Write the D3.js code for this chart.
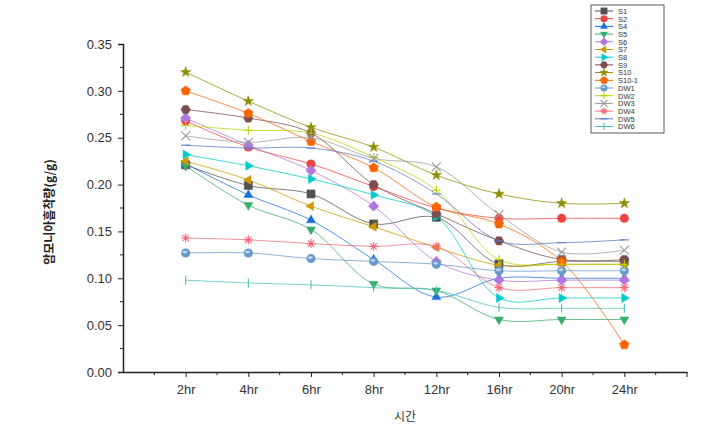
<!DOCTYPE html>
<html><head><meta charset="utf-8">
<script src="https://cdn.jsdelivr.net/npm/d3@7"></script>
<style>body{margin:0;background:#fff;}svg{display:block;font-family:"Liberation Sans",Arial,sans-serif;}</style>
</head><body>
<svg id="c" width="715" height="432"></svg>
<script>
const categories = ["2hr","4hr","6hr","8hr","12hr","16hr","20hr","24hr"];
const seriesNames = ["S1","S2","S4","S5","S6","S7","S8","S9","S10","S10-1","DW1","DW2","DW3","DW4","DW5","DW6"];
const S1   = [0.221,0.199,0.190,0.158,0.165,0.115,0.118,0.118];
const S2   = [0.268,0.240,0.222,0.198,0.175,0.164,0.164,0.164];
const S4   = [0.222,0.189,0.162,0.120,0.080,0.100,0.100,0.100];
const S5   = [0.220,0.178,0.152,0.094,0.087,0.056,0.056,0.056];
const S6   = [0.271,0.242,0.215,0.177,0.118,0.098,0.098,0.098];
const S7   = [0.225,0.205,0.177,0.155,0.133,0.114,0.115,0.115];
const S8   = [0.232,0.220,0.206,0.189,0.166,0.079,0.079,0.079];
const S9   = [0.280,0.271,0.255,0.200,0.169,0.140,0.120,0.120];
const S10  = [0.320,0.289,0.261,0.240,0.210,0.190,0.180,0.180];
const S10_1= [0.300,0.276,0.246,0.218,0.176,0.158,0.118,0.029];
const DW1  = [0.127,0.127,0.121,0.118,0.115,0.108,0.108,0.108];
const DW2  = [0.263,0.258,0.255,0.229,0.194,0.120,0.115,0.115];
const DW3  = [0.252,0.245,0.250,0.228,0.219,0.168,0.128,0.130];
const DW4  = [0.143,0.141,0.137,0.134,0.134,0.090,0.090,0.090];
const DW5  = [0.242,0.239,0.239,0.225,0.190,0.140,0.138,0.141];
const DW6  = [0.098,0.095,0.093,0.090,0.087,0.069,0.068,0.068];
const yTicks = [0.00,0.05,0.10,0.15,0.20,0.25,0.30,0.35];

const values = [S1,S2,S4,S5,S6,S7,S8,S9,S10,S10_1,DW1,DW2,DW3,DW4,DW5,DW6];
const colors = ["#515151","#F14040","#1A6FDF","#37AD6B","#B177DE","#CC9900","#00CBCC","#7D4E4E","#8E8E00","#FB6501","#6699CC","#B3D400","#999999","#F36A7A","#5A78C4","#48C0B8"];
const shapes = ["square","circle","tri","tridown","diamond","trileft","triright","hexagon","star","pentagon","sphere","plus","x","asterisk","dash","vbar"];

const svg = d3.select("#c");
const mL = 123, mR = 687, mT = 44, mB = 372;
const x = d3.scaleLinear().domain([0, 9]).range([mL, mR]);
const y = d3.scaleLinear().domain([0, 0.35]).range([mB, mT]);

// axes
const yAxis = d3.axisLeft(y).tickValues(yTicks).tickFormat(d3.format(".2f")).tickSize(5).tickPadding(6);
const gy = svg.append("g").attr("transform", `translate(${mL},0)`).call(yAxis);
gy.select(".domain").attr("stroke","#222").attr("stroke-width",1.5);
gy.selectAll(".tick line").attr("stroke","#222");
gy.selectAll("text").attr("font-size",13).attr("fill","#333");
const yMinor = d3.range(0.025, 0.35, 0.05);
svg.append("g").selectAll("line").data(yMinor).join("line")
  .attr("x1", mL-3).attr("x2", mL).attr("y1", d=>y(d)).attr("y2", d=>y(d)).attr("stroke","#222");

const xAxis = d3.axisBottom(x).tickValues(d3.range(1, 9)).tickFormat(i => categories[i-1]).tickSize(5).tickPadding(8).tickSizeOuter(0);
const gx = svg.append("g").attr("transform", `translate(0,${mB})`).call(xAxis);
gx.select(".domain").attr("stroke","#222").attr("stroke-width",1.5);
gx.selectAll(".tick line").attr("stroke","#222");
gx.selectAll("text").attr("font-size",13).attr("fill","#333");
const xMinor = d3.range(0.5, 9, 1);
svg.append("g").selectAll("line").data(xMinor).join("line")
  .attr("x1", d=>x(d)).attr("x2", d=>x(d)).attr("y1", mB).attr("y2", mB+3).attr("stroke","#222");
svg.append("line").attr("x1", x(9)).attr("x2", x(9)).attr("y1", mB).attr("y2", mB+5).attr("stroke","#222");

// axis titles
svg.append("text").attr("x", x(4.5)).attr("y", 421).attr("text-anchor","middle")
  .attr("font-size",12).attr("fill","#333").attr("font-family","'Noto Sans CJK KR',sans-serif").text("시간");
svg.append("text").attr("transform","translate(54,212) rotate(-90)").attr("text-anchor","middle")
  .attr("font-size",12).attr("font-weight","bold").attr("fill","#222").attr("font-family","'Noto Sans CJK KR',sans-serif")
  .text("암모니아흡착량(g/g)");

// marker drawing
function polyPath(n, r, rot) {
  const pts = d3.range(n).map(i => { const a = rot + i*2*Math.PI/n; return [r*Math.cos(a), r*Math.sin(a)]; });
  return "M" + pts.map(p => p.join(",")).join("L") + "Z";
}
function drawMarker(g, shape, color, s) {
  const r = s/2;
  const fill = (p) => g.append("path").attr("d", p).attr("fill", color).attr("stroke", color).attr("stroke-width", 0.5);
  const strk = (p) => g.append("path").attr("d", p).attr("fill", "none").attr("stroke", color).attr("stroke-width", 1.1);
  switch (shape) {
    case "square": fill(`M${-r*0.9},${-r*0.9}h${s*0.9}v${s*0.9}h${-s*0.9}Z`); break;
    case "circle": g.append("circle").attr("r", r).attr("fill", color); break;
    case "tri": fill(polyPath(3, r*1.15, -Math.PI/2)); break;
    case "tridown": fill(polyPath(3, r*1.15, Math.PI/2)); break;
    case "trileft": fill(polyPath(3, r*1.15, Math.PI)); break;
    case "triright": fill(polyPath(3, r*1.15, 0)); break;
    case "diamond": fill(polyPath(4, r*1.15, 0)); break;
    case "hexagon": fill(polyPath(6, r*1.05, 0)); break;
    case "pentagon": fill(polyPath(5, r*1.1, -Math.PI/2)); break;
    case "star": fill(d3.symbol(d3.symbolStar, s*s*0.42)()); break;
    case "sphere":
      g.append("circle").attr("r", r).attr("fill", color);
      g.append("ellipse").attr("cx", -r*0.15).attr("cy", -r*0.2).attr("rx", r*0.55).attr("ry", r*0.3).attr("fill", "#ffffff").attr("opacity", 0.6);
      break;
    case "plus": strk(`M${-r},0H${r}M0,${-r}V${r}`); break;
    case "x": strk(`M${-r},${-r}L${r},${r}M${-r},${r}L${r},${-r}`); break;
    case "asterisk": strk(`M${-r},0H${r}M${-r*0.7},${-r*0.7}L${r*0.7},${r*0.7}M${-r*0.7},${r*0.7}L${r*0.7},${-r*0.7}M0,${-r}V${r}`); break;
    case "dash": strk(`M${-r},0H${r}`); break;
    case "vbar": strk(`M0,${-r}V${r}`); break;
  }
}

// lines
const line = d3.line().x((d,i) => x(i+1)).y(d => y(d)).curve(d3.curveCatmullRom.alpha(0.5));
const lineG = svg.append("g");
values.forEach((vals, k) => {
  lineG.append("path").datum(vals).attr("d", line).attr("fill","none")
    .attr("stroke", colors[k]).attr("stroke-width", 1).attr("opacity", 0.75);
});
const markG = svg.append("g");
values.forEach((vals, k) => {
  vals.forEach((v, i) => {
    const g = markG.append("g").attr("transform", `translate(${x(i+1)},${y(v)})`);
    drawMarker(g, shapes[k], colors[k], 9);
  });
});

// legend
const lg = svg.append("g").attr("transform","translate(591,5)");
lg.append("rect").attr("x",0).attr("y",0).attr("width",73).attr("height",128).attr("fill","#fff").attr("stroke","#333").attr("stroke-width",0.8);
seriesNames.forEach((name, k) => {
  const yy = 6 + k*7.7;
  lg.append("line").attr("x1",4).attr("x2",22).attr("y1",yy).attr("y2",yy).attr("stroke",colors[k]).attr("stroke-width",1);
  const g = lg.append("g").attr("transform",`translate(13,${yy})`);
  drawMarker(g, shapes[k], colors[k], 7);
  lg.append("text").attr("x",27).attr("y",yy+2.8).attr("font-size",7.5).attr("fill","#333").text(name);
});
</script>
</body></html>
